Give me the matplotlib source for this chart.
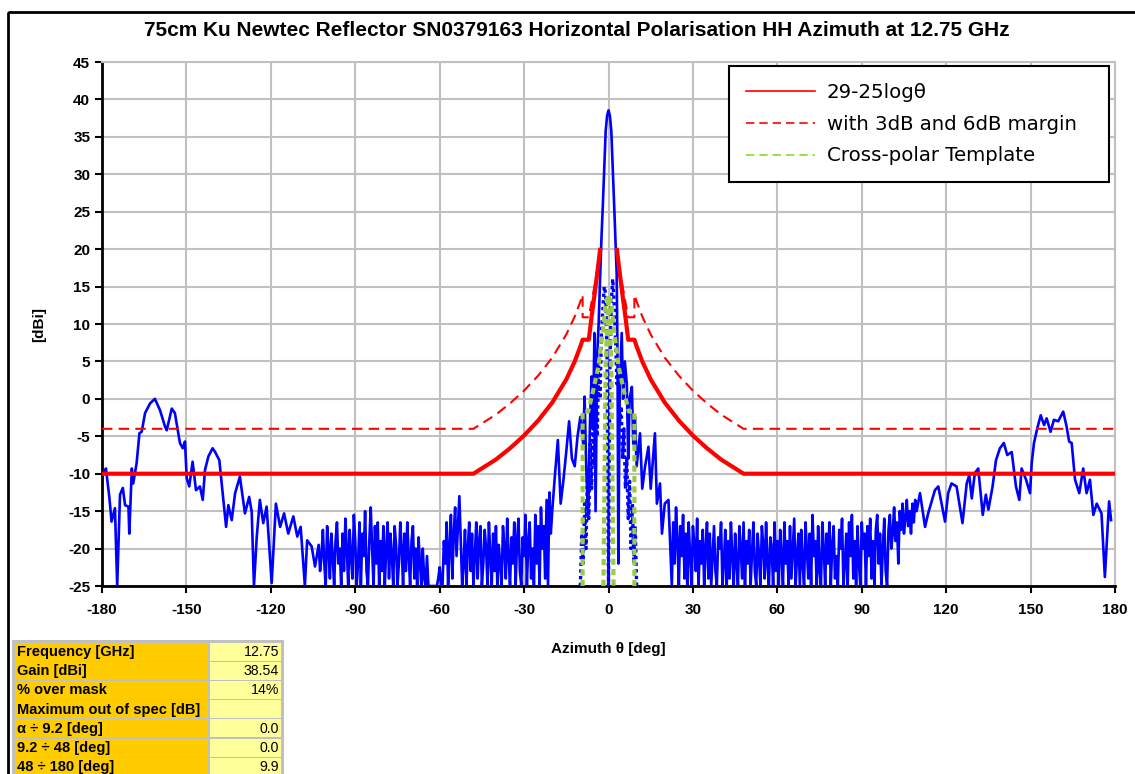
import matplotlib

matplotlib.use("Agg")

import matplotlib.pyplot as plt
import numpy as np
from matplotlib.lines import Line2D
from matplotlib.patches import Rectangle

plt.rcParams["axes.unicode_minus"] = False

TITLE = "75cm Ku Newtec Reflector SN0379163 Horizontal Polarisation HH Azimuth at 12.75 GHz"

# co-polar cut as (deg, dBi)
far_left = [
    (-179.0, -9.6), (-178.6, -9.3), (-177.4, -13.1), (-176.6, -16.4), (-175.4, -14.6),
    (-174.6, -25.0), (-173.6, -12.8), (-172.6, -11.9), (-171.8, -14.2), (-170.6, -14.4),
    (-170.3, -18.0), (-169.4, -9.3), (-168.9, -11.3), (-167.7, -8.6), (-166.7, -4.6),
    (-165.9, -4.4), (-164.7, -1.9), (-162.9, -0.6), (-161.2, 0.0), (-159.4, -1.5),
    (-157.6, -3.7), (-157.0, -4.2), (-155.2, -1.3), (-154.1, -1.9), (-152.3, -5.9),
    (-151.3, -6.6), (-150.5, -5.7), (-149.9, -10.6), (-149.0, -11.7), (-147.8, -8.4),
    (-146.6, -12.2), (-145.2, -11.7), (-144.2, -13.5), (-143.4, -9.5), (-142.2, -7.7),
    (-140.7, -6.6), (-139.8, -7.1), (-138.3, -8.2), (-137.1, -12.6), (-135.9, -17.1),
    (-135.1, -14.2), (-133.9, -16.2), (-132.7, -12.6), (-131.0, -10.4), (-129.2, -15.3),
    (-127.7, -13.1), (-126.8, -15.1), (-126.0, -25.0), (-125.0, -18.4), (-123.9, -13.5),
    (-122.7, -16.6), (-121.5, -14.4), (-119.7, -24.6), (-118.2, -14.0), (-116.7, -17.1),
    (-115.3, -15.3), (-113.8, -18.0), (-112.0, -15.7), (-110.6, -18.4), (-109.4, -17.1),
    (-107.9, -25.0), (-107.1, -18.9), (-105.5, -19.7), (-104.3, -22.4),
]

# noise floor, every 0.5 deg from -103 to -20.5
noise_left_dbi = [
    -19.5, -23, -21, -17.5, -22, -25, -17, -20, -24, -18,
    -21, -25, -19, -16.5, -22, -20, -25, -18, -23, -16,
    -20, -25, -17.5, -21, -24, -15.5, -19, -25, -22, -16.5,
    -25, -18, -21, -15, -23, -25, -19, -14.5, -20, -25,
    -17, -22, -16.5, -25, -19, -23, -17, -25, -20, -16.5,
    -24, -18, -21, -25, -17, -19.5, -25, -22, -16.5, -20,
    -25, -18, -23, -16.5, -21, -25, -19, -17, -24, -20,
    -25, -18.5, -22, -25, -20, -24, -25, -21, -25, -25,
    -25, -25, -25, -25, -25, -24, -22.5, -25, -25, -19,
    -22, -16.5, -25, -20, -15.5, -24, -18, -14.5, -21, -17,
    -13, -19, -25, -22, -17.5, -25, -20, -16.5, -23, -18,
    -25, -21, -16.5, -24, -19, -17, -25, -22, -17.5, -20,
    -25, -16.5, -21, -25, -18, -23, -17, -25, -19.5, -22,
    -25, -17, -20, -24, -16, -21, -25, -18.5, -22, -16.5,
    -25, -19, -16, -23, -25, -18.5, -21, -15.5, -25, -19,
    -16.5, -24, -20, -25, -15.5, -22, -17, -25, -14.5, -20,
    -17, -24, -13.5, -25, -12.5, -18,
]
noise_left_deg = np.arange(-103, -20.4, 0.5)

center = [
    (-20, -15), (-19, -10), (-18, -5.5), (-17, -14), (-16, -10.8), (-15, -7), (-14, -3),
    (-13, -8), (-12, -9), (-11, -5), (-10, -2.4), (-9, -6), (-8.5, 0.3),
    (-8, -8), (-7.3, -15.7), (-6.5, -2), (-6, 3), (-5.5, -4), (-5, 8.8),
    (-4.6, -15), (-4, 6), (-3.5, 10), (-3, 16), (-2.5, 21.5), (-2, 26),
    (-1.5, 31), (-1, 35.8), (-0.5, 37.8), (0, 38.54), (0.5, 37.8), (1, 35.8),
    (1.5, 31), (2, 26), (2.5, 21), (2.9, 16.8), (3.2, 6), (3.5, -22),
    (4, 2), (4.7, 8.8), (5.2, 0), (5.8, 5), (6.5, 2), (7, -8), (7.5, 0),
    (8.3, 1.6), (8.8, -6), (9.4, -2.4), (10, -9), (11.2, -4.6), (12, -12),
    (13, -9), (14.2, -6.4), (15, -12), (15.8, -8), (16.5, -4.6), (17.2, -14),
    (18.3, -11.3), (19, -18), (20, -14), (21.3, -13.5),
]

# noise floor, every 0.5 deg from 22 to 109.5
noise_right_dbi = [
    -20, -25, -16.5, -22, -14.5, -19, -25, -17, -21, -15.5,
    -24, -18, -25, -16.5, -21, -25, -17, -19.5, -23, -16,
    -25, -19, -22, -17.5, -25, -20, -16.5, -24, -18, -25,
    -21, -17, -23, -25, -18.5, -20, -16.5, -25, -22, -17.5,
    -25, -19, -24, -16.5, -21, -25, -18, -22, -25, -17,
    -20, -24, -16.5, -25, -19, -22, -17.5, -25, -20.5, -16.5,
    -23, -25, -18, -21, -25, -17, -19.5, -24, -16.5, -22,
    -25, -18.5, -20, -25, -16.5, -23, -19, -25, -17.5, -21,
    -25, -16.5, -22, -19, -25, -17, -24, -20, -16, -25,
    -21, -18, -25, -17.5, -22, -25, -16.5, -20, -24, -18,
    -25, -15.5, -21, -19, -25, -17, -23, -25, -16.5, -20,
    -25, -18, -22, -16.5, -25, -19.5, -17, -24, -21, -25,
    -17.5, -20, -16, -25, -22, -18, -25, -16.5, -21, -15.5,
    -24, -19, -25, -17, -22, -25, -16.5, -20, -18, -25,
    -17, -21, -16, -24, -19, -25, -17.5, -15.5, -22, -18,
    -25, -20, -16, -23, -25, -17.5, -15.5, -20, -18, -14.5,
    -19, -16.5, -22, -15, -17.5, -14, -18, -16, -13.5, -17,
    -15, -18, -14, -16.5, -13.5, -15,
]
noise_right_deg = np.arange(22, 109.6, 0.5)

far_right = [
    (110.7, -12.6), (112.5, -17.1), (113.6, -15.3), (116.0, -12.2), (117.2, -11.7),
    (119.6, -16.4), (120.7, -12.6), (121.9, -11.3), (123.7, -11.7), (125.8, -16.6),
    (127.3, -11.3), (128.2, -10.2), (129.1, -13.3), (130.2, -9.9), (131.4, -9.3),
    (133.0, -15.5), (134.1, -12.8), (135.0, -14.8), (136.5, -11.7), (137.7, -8.2),
    (139.1, -6.6), (140.5, -5.9), (141.7, -7.5), (143.3, -7.1), (144.8, -11.7),
    (146.0, -13.5), (146.8, -9.3), (148.4, -10.8), (149.8, -12.6), (150.4, -8.6),
    (151.2, -5.9), (152.4, -3.9), (153.6, -2.2), (154.8, -3.5), (155.7, -2.6),
    (157.1, -4.4), (158.3, -2.8), (159.8, -3.0), (161.6, -1.7), (162.8, -3.7),
    (163.7, -5.7), (164.6, -5.9), (165.8, -10.8), (167.3, -12.6), (168.7, -9.3),
    (169.9, -12.6), (171.1, -10.8), (172.3, -15.5), (173.5, -14.0), (175.2, -15.3),
    (176.4, -23.8), (177.9, -13.7), (178.6, -16.2),
]

# cross-polar cut (dotted), -10..10 deg every 0.5 deg
xpol_deg = np.arange(-10, 10.01, 0.5)
xpol_dbi = [
    -25, -18, -22, -14, -20, -10, -16, -6, -12, -3,
    -9, 1, -5, 5, 0, 9, 12, 15, 14, 5,
    -25, 4, 13, 16, 13, 8, 2, 4, -3, -1,
    -8, -4, -12, -8, -16, -11, -20, -14, -22, -17,
    -25,
]

# masks, positive side only (mirrored below)
mask_deg = [3.0, 4.0, 5.0, 6.0, 7.0, 9.2, 10, 12, 15, 20, 25, 30, 35, 40, 48, 180]
mask_dbi = [19.9, 16.8, 13.8, 11.0, 7.9, 7.9, 7.0, 5.0, 2.6, -0.5, -2.9, -4.9, -6.6, -8.1, -10.0, -10.0]
margin_deg = [3.0, 4.4, 5.5, 7.0, 9.2, 9.2, 10, 12, 15, 20, 25, 30, 35, 40, 48, 180]
margin_dbi = [19.9, 16.3, 14.0, 10.9, 10.9, 13.9, 13.0, 11.0, 8.6, 5.5, 3.1, 1.1, -0.6, -2.1, -4.0, -4.0]
xtpl_deg = [0.0, 1.0, 2.0, 3.6, 5.4, 7.2, 9.2, 9.2]
xtpl_dbi = [13.7, 13.0, 9.0, 4.3, 1.2, -1.7, -1.7, -25]
xtpl_inner_deg = [-1.8, -1.0, 0.0, 1.0, 1.8]
xtpl_inner_dbi = [-25, 5, 13.7, 5, -25]

legend_labels = ["29-25log\u03b8", "with 3dB and 6dB margin", "Cross-polar Template"]
table_labels = ["Frequency [GHz]", "Gain [dBi]", "% over mask", "Maximum out of spec [dB]",
                "\u03b1 \u00f7 9.2 [deg]", "9.2 \u00f7 48 [deg]", "48 \u00f7 180 [deg]"]
table_values = ["12.75", "38.54", "14%", "", "0.0", "0.0", "9.9"]


def mirror(deg, dbi):
    deg = np.asarray(deg, float)
    dbi = np.asarray(dbi, float)
    return (-deg[::-1], dbi[::-1]), (deg, dbi)


far_left_deg, far_left_dbi = zip(*far_left)
center_deg, center_dbi = zip(*center)
far_right_deg, far_right_dbi = zip(*far_right)
copol_deg = np.concatenate([far_left_deg, noise_left_deg, center_deg, noise_right_deg, far_right_deg])
copol_dbi = np.concatenate([far_left_dbi, noise_left_dbi, center_dbi, noise_right_dbi, far_right_dbi])

W, H = 1135, 774
fig = plt.figure(figsize=(W / 100, H / 100), dpi=100)
ax = fig.add_axes([102 / W, (H - 586) / H, (1115 - 102) / W, (586 - 62) / H])

RED = "#FF0000"
GREEN = "#99CC44"
BLUE = "#0000FF"

ax.plot(copol_deg, copol_dbi, color=BLUE, lw=1.9, zorder=3)
ax.plot(xpol_deg, xpol_dbi, color=BLUE, lw=2.4, ls=(0, (1, 1)), zorder=3)
for d, v in mirror(xtpl_deg, xtpl_dbi):
    ax.plot(d, v, color=GREEN, lw=3, ls=(0, (1.5, 1)), zorder=4)
ax.plot(xtpl_inner_deg, xtpl_inner_dbi, color=GREEN, lw=3, ls=(0, (1.5, 1)), zorder=4)
for d, v in mirror(mask_deg, mask_dbi):
    ax.plot(d, v, color=RED, lw=3, zorder=5)
for d, v in mirror(margin_deg, margin_dbi):
    ax.plot(d, v, color=RED, lw=1.5, ls=(0, (5, 3)), zorder=5)

ax.set_xlim(-180, 180)
ax.set_ylim(-25, 45)
ax.set_xticks(np.arange(-180, 181, 30))
ax.set_yticks(np.arange(-25, 46, 5))
ax.grid(True, color="#C0C0C0", lw=1.5)
ax.set_axisbelow(True)
for side in ("top", "right"):
    ax.spines[side].set_color("#C0C0C0")
    ax.spines[side].set_linewidth(1.5)
for side in ("left", "bottom"):
    ax.spines[side].set_linewidth(2)
ax.tick_params(direction="out", length=5, width=1.5, labelsize=11)
ax.tick_params(axis="x", pad=7)
for lab in ax.get_xticklabels() + ax.get_yticklabels():
    lab.set_fontweight("bold")
    lab.set_family("Liberation Sans")
ax.set_xlabel("Azimuth \u03b8 [deg]", fontsize=11, fontweight="bold", family="Liberation Sans", labelpad=18)
ax.set_ylabel("[dBi]", fontsize=11, fontweight="bold", family="Liberation Sans", labelpad=16)
fig.text(577 / W, 1 - 31 / H, TITLE, ha="center", va="center", fontsize=15,
         fontweight="bold", family="Liberation Sans")

handles = [
    Line2D([], [], color=RED, lw=1.2),
    Line2D([], [], color=RED, lw=1.2, ls=(0, (5, 3))),
    Line2D([], [], color="#88DD22", lw=1.2, ls=(0, (5, 3))),
]
leg = ax.legend(handles, legend_labels, loc="upper left", mode="expand",
                bbox_to_anchor=(729 / W, 1 - 182 / H, 380 / W, 116 / H), bbox_transform=fig.transFigure,
                fancybox=False, edgecolor="black", framealpha=1,
                handlelength=3.5, handletextpad=0.6, labelspacing=0.65, borderpad=0.85,
                borderaxespad=0, prop={"family": "DejaVu Sans", "size": 14.2})
leg.get_frame().set_linewidth(1.5)
leg.set_zorder(10)

# overlay in pixel coordinates for the frame and the table
ov = fig.add_axes([0, 0, 1, 1], zorder=-1)
ov.set_xlim(0, W)
ov.set_ylim(H, 0)
ov.axis("off")
ov.add_patch(Rectangle((8, 12), W + 20, H + 20, fill=False, ec="black", lw=2))
ov2 = fig.add_axes([0, 0, 1, 1], zorder=20)
ov2.set_xlim(0, W)
ov2.set_ylim(H, 0)
ov2.axis("off")
ov2.add_patch(Rectangle((12, 640), 272, H - 640 + 5, fc="#C0C0C0", ec="none"))
for i, (lab, val) in enumerate(zip(table_labels, table_values)):
    y0 = 642.5 + i * 19.2
    ov2.add_patch(Rectangle((15, y0), 193, 18, fc="#FFCC00", ec="none"))
    ov2.add_patch(Rectangle((210, y0), 71, 18, fc="#FFFF99", ec="none"))
    ov2.text(17, y0 + 9.5, lab, ha="left", va="center", fontsize=10.5, fontweight="bold",
             family="Liberation Sans")
    ov2.text(279, y0 + 9.5, val, ha="right", va="center", fontsize=10.2, family="Liberation Sans")

fig.savefig("out.png", dpi=100)
